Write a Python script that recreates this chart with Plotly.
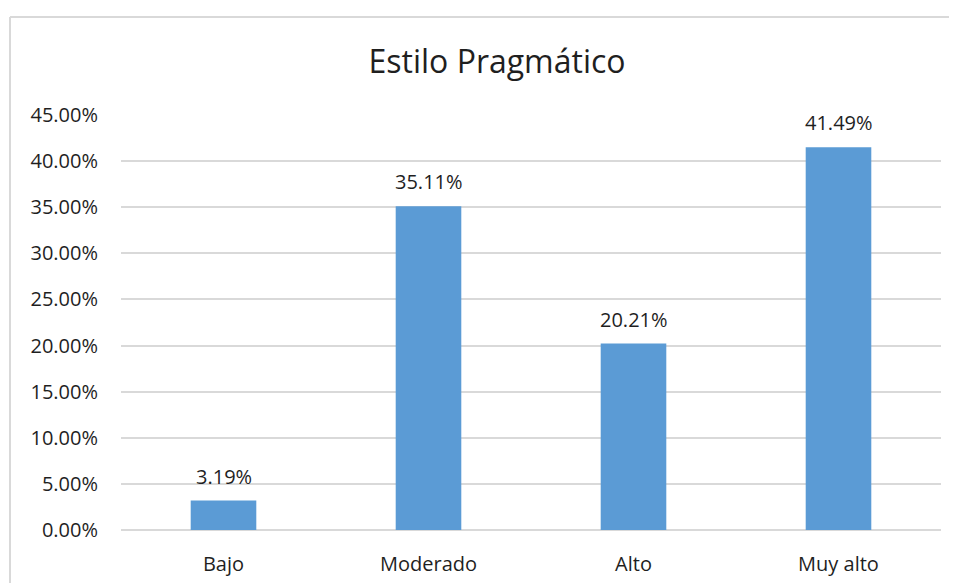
import plotly.graph_objects as go

categories = ["Bajo", "Moderado", "Alto", "Muy alto"]
values = [0.0319, 0.3511, 0.2021, 0.4149]
labels = ["3.19%", "35.11%", "20.21%", "41.49%"]
y_ticks = [i * 0.05 for i in range(10)]

BAR_COLOR = "#5B9BD5"
GRID_COLOR = "#D9D9D9"
TEXT_COLOR = "#1F1F1F"
FONT = "Open Sans, Noto Sans, sans-serif"

fig = go.Figure()
fig.add_trace(go.Bar(
    x=categories, y=values, marker_color=BAR_COLOR, marker_line_width=0,
    width=0.32,
))

# value labels, lifted a bit above the bars like in Excel
for cat, val, lab in zip(categories, values, labels):
    fig.add_annotation(x=cat, y=val, text=lab, showarrow=False,
                       yanchor="bottom", yshift=9,
                       font=dict(size=20, color=TEXT_COLOR, family=FONT))

# chart frame: only the top and left edges fall inside the crop
frame_x = (10 - 121) / 820
frame_y = (530 - 17) / 415
border = dict(color=GRID_COLOR, width=2)
fig.add_shape(type="line", xref="paper", yref="paper", x0=frame_x, x1=1.5,
              y0=frame_y, y1=frame_y, line=border, layer="below")
fig.add_shape(type="line", xref="paper", yref="paper", x0=frame_x, x1=frame_x,
              y0=-0.5, y1=frame_y, line=border, layer="below")

fig.update_layout(
    width=957, height=583,
    margin=dict(l=113, r=24, t=107, b=61),
    paper_bgcolor="white", plot_bgcolor="white",
    title=dict(text="Estilo Pragmático", x=0.511, xanchor="center",
               y=1 - 54 / 583, yanchor="middle",
               font=dict(size=32, color=TEXT_COLOR, family=FONT)),
    font=dict(family=FONT, size=20, color=TEXT_COLOR),
    showlegend=False,
)
fig.update_xaxes(showgrid=False, showline=False, ticks="",
                 ticklabelstandoff=20,
                 tickfont=dict(size=20, color=TEXT_COLOR))
fig.update_yaxes(range=[0, 0.45], tickvals=y_ticks, tickformat=".2%",
                 showgrid=True, gridcolor=GRID_COLOR, gridwidth=2,
                 zeroline=True, zerolinecolor=GRID_COLOR, zerolinewidth=2,
                 ticks="", ticklabelstandoff=22,
                 tickfont=dict(size=20, color=TEXT_COLOR))

fig.write_html("out.html")
